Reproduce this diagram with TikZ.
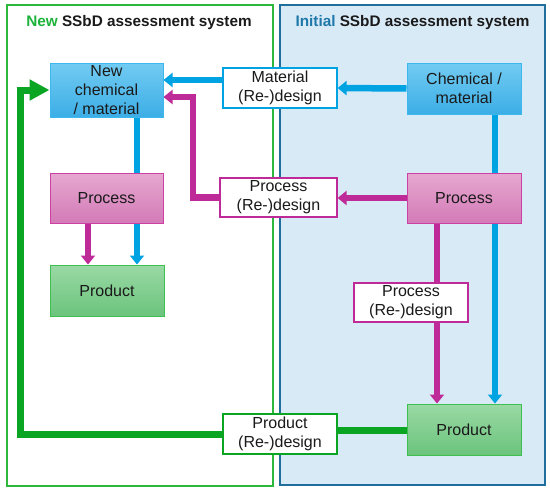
\documentclass[tikz,border=0pt]{standalone}
\usepackage{fontspec}
\setmainfont{Liberation Sans}
\usetikzlibrary{arrows.meta,backgrounds}
\definecolor{lblue}{HTML}{00A3E2}
\definecolor{lmag}{HTML}{BE2A98}
\definecolor{lgreen}{HTML}{0AA523}
\definecolor{framegreen}{HTML}{2DB83D}
\definecolor{framedark}{HTML}{1F6E9C}
\definecolor{panelfill}{HTML}{D9EAF7}
\definecolor{newgreen}{HTML}{1DB33A}
\definecolor{initblue}{HTML}{1F78AA}
\definecolor{btop}{HTML}{72CBF2}
\definecolor{bbot}{HTML}{3CAEE6}
\definecolor{bbord}{HTML}{3DB8EE}
\definecolor{ptop}{HTML}{E5A8D0}
\definecolor{pbot}{HTML}{D47AB7}
\definecolor{pbord}{HTML}{CC3FA3}
\definecolor{gtop}{HTML}{9AD9A4}
\definecolor{gbot}{HTML}{6BC47D}
\definecolor{gbord}{HTML}{3FBF4F}
\definecolor{txt}{HTML}{1A1A1A}
\tikzset{
  box/.style={minimum width=114pt, minimum height=51pt, inner sep=0pt, align=center, line width=1pt,
    text=txt, font=\fontsize{16}{19}\selectfont},
  bluebox/.style={box, draw=bbord, top color=btop, bottom color=bbot},
  pinkbox/.style={box, draw=pbord, top color=ptop, bottom color=pbot},
  greenbox/.style={box, draw=gbord, top color=gtop, bottom color=gbot},
  redesign/.style={box, fill=white, minimum height=40pt, line width=1.2pt},
  bline/.style={draw=lblue, line width=6.5pt},
  mline/.style={draw=lmag, line width=6.5pt},
  gline/.style={draw=lgreen, line width=7pt, line join=miter},
  barrow/.style={bline, -{Triangle[length=9pt,width=14pt]}},
  marrow/.style={mline, -{Triangle[length=9pt,width=14pt]}},
  garrow/.style={gline, -{Triangle[length=20pt,width=20pt]}},
  title/.style={font=\bfseries\fontsize{15.3}{18}\selectfont, inner sep=0pt, text=txt}
}
\begin{document}
\begin{tikzpicture}[x=1pt,y=-1pt]
\useasboundingbox (0,0) rectangle (550,491);
% panels
\begin{scope}[on background layer]
\draw[framegreen, line width=1.5pt] (7,5) rectangle (273,486);
\draw[framedark, fill=panelfill, line width=1.5pt] (280,5) rectangle (545,485);
\end{scope}
\node[title] (t1) at (139,23) {\textcolor{newgreen}{New} SSbD assessment system};
\node[title] (t2) at (412.5,23) {\textcolor{initblue}{Initial} SSbD assessment system};
% boxes
\node[bluebox, minimum width=113pt, minimum height=54pt] (newchem) at (106.5,90) {New\\chemical\\/ material};
\node[pinkbox, minimum width=113pt, minimum height=50pt] (lproc) at (106.5,198) {Process};
\node[greenbox] (lprod) at (107,290.5) {Product};
\node[redesign, draw=lblue] (matre) at (280,88) {Material\\(Re-)design};
\node[redesign, draw=lmag, minimum width=117pt, minimum height=39pt] (procre1) at (278.5,197.5) {Process\\(Re-)design};
\node[redesign, draw=lmag, minimum height=39pt] (procre2) at (411,302.5) {Process\\(Re-)design};
\node[redesign, draw=lgreen] (prodre) at (280,434) {Product\\(Re-)design};
\node[bluebox] (chem) at (464,88.5) {Chemical /\\material};
\node[pinkbox, minimum height=50pt] (rproc) at (464,198) {Process};
\node[greenbox] (rprod) at (464,429.5) {Product};
\coordinate (m1) at (193,97);
\coordinate (g1) at (20,433);
% connectors
\begin{scope}[on background layer]
\draw[barrow] (chem.west) -- (matre.east);
\draw[barrow] ([yshift=8pt]matre.west) -- ([yshift=8pt]matre.west -| newchem.east);
\draw[barrow] ([xshift=30.5pt]newchem.south) -- ([xshift=30.5pt]newchem.south |- lprod.north);
\draw[marrow] ([xshift=-18.5pt]lproc.south) -- ([xshift=-18.5pt]lproc.south |- lprod.north);
\draw[marrow] (rproc.west) -- (rproc.west -| procre1.east);
\draw[marrow] (procre1.west) -| (m1) -- (m1 -| newchem.east);
\draw[barrow] ([xshift=31pt]chem.south) -- ([xshift=31pt]chem.south |- rprod.north);
\draw[mline] ([xshift=-27pt]rproc.south) -- ([xshift=-27pt]rproc.south |- procre2.north);
\draw[marrow] ([xshift=-27pt]rproc.south |- procre2.south) -- ([xshift=-27pt]rproc.south |- rprod.north);
\draw[gline] ([yshift=-1pt]rprod.west) -- ([yshift=-1pt]rprod.west -| prodre.east);
\draw[garrow] (prodre.west) -- (prodre.west -| g1) |- (newchem.west);
\end{scope}
\end{tikzpicture}
\end{document}
